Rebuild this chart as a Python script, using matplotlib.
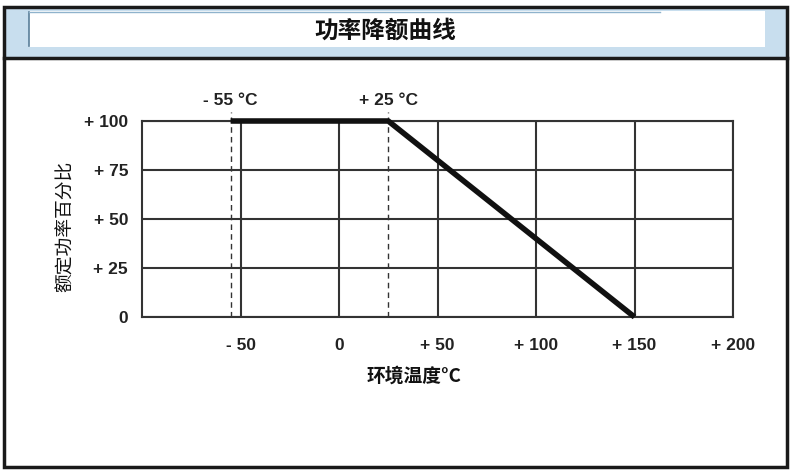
import matplotlib
matplotlib.use('Agg')
import matplotlib.pyplot as plt
from matplotlib.patches import Rectangle

plt.rcParams['font.family'] = ['Noto Sans CJK SC', 'DejaVu Sans']

# derating curve data
curve_t = [-55, 25, 150]
curve_p = [100, 100, 0]
marks = [-55, 25]
mark_labels = ['- 55 °C', '+ 25 °C']
xticks = [-50, 0, 50, 100, 150, 200]
xtick_labels = ['- 50', '0', '+ 50', '+ 100', '+ 150', '+ 200']
yticks = [0, 25, 50, 75, 100]
ytick_labels = ['0', '+ 25', '+ 50', '+ 75', '+ 100']

W, H = 800, 474
fig = plt.figure(figsize=(8, 4.74), dpi=100)

def px(x0, y0, x1, y1):
    # box in pixel coords (top-left origin) -> figure fraction
    return (x0 / W, 1 - y1 / H, (x1 - x0) / W, (y1 - y0) / H)

def box(x0, y0, x1, y1, **kw):
    b = px(x0, y0, x1, y1)
    fig.patches.append(Rectangle(b[:2], b[2], b[3], transform=fig.transFigure, **kw))

# title band and outer frame
box(4, 7, 787, 57, facecolor='#c8deee', edgecolor='none', zorder=0)
box(29, 11, 765, 47, facecolor='white', edgecolor='none', zorder=1)
fig.lines.append(plt.Line2D([29 / W, 29 / W], [1 - 12 / H, 1 - 46 / H],
                            transform=fig.transFigure, color='#5a7f99', lw=1.2))
fig.lines.append(plt.Line2D([29 / W, 660 / W], [1 - 11.5 / H, 1 - 11.5 / H],
                            transform=fig.transFigure, color='#8fb3cc', lw=1))
box(4, 7, 787, 467, facecolor='none', edgecolor='#1a1a1a', lw=2.5, zorder=2)
fig.lines.append(plt.Line2D([4 / W, 787 / W], [1 - 58 / H, 1 - 58 / H],
                            transform=fig.transFigure, color='#1a1a1a', lw=2.5))
fig.text(385 / W, 1 - 31 / H, '功率降额曲线', ha='center', va='center',
         fontsize=17, fontweight='bold', color='#111111')

ax = fig.add_axes(px(142, 121, 733, 317))
ax.set_xlim(-100, 200)
ax.set_ylim(0, 100)

grid_kw = dict(color='#333333', lw=1.5, zorder=1)
for t in xticks:
    ax.axvline(t, **grid_kw)
for v in yticks:
    ax.axhline(v, **grid_kw)
for s in ax.spines.values():
    s.set_color('#333333')
    s.set_linewidth(1.5)

for m, lab in zip(marks, mark_labels):
    ax.plot([m, m], [0, 104.6], ls=(0, (4, 3)), color='#333333', lw=1,
            clip_on=False, zorder=2)
    ax.text(m, 110.5, lab, ha='center', va='center', fontsize=12.5,
            fontweight='bold', family=['Liberation Sans', 'DejaVu Sans'],
            color='#222222')

ax.plot(curve_t, curve_p, color='#111111', lw=4, solid_capstyle='butt',
        zorder=3, clip_on=False)

ax.set_xticks(xticks)
ax.set_xticklabels(xtick_labels)
ax.set_yticks(yticks)
ax.set_yticklabels(ytick_labels)
ax.tick_params(length=0, labelsize=12.5, colors='#222222')
ax.tick_params(axis='x', pad=15)
ax.tick_params(axis='y', pad=10)
for lab in ax.get_xticklabels() + ax.get_yticklabels():
    lab.set_family(['Liberation Sans', 'DejaVu Sans'])
    lab.set_fontweight('bold')

fig.text(414 / W, 1 - 376 / H, '环境温度°C', ha='center', va='center',
         fontsize=13.5, fontweight='bold', color='#111111')
fig.text(65 / W, 1 - 226 / H, '额定功率百分比', ha='center', va='center',
         rotation=90, fontsize=13.5, color='#111111')

fig.savefig('out.png', dpi=100)
